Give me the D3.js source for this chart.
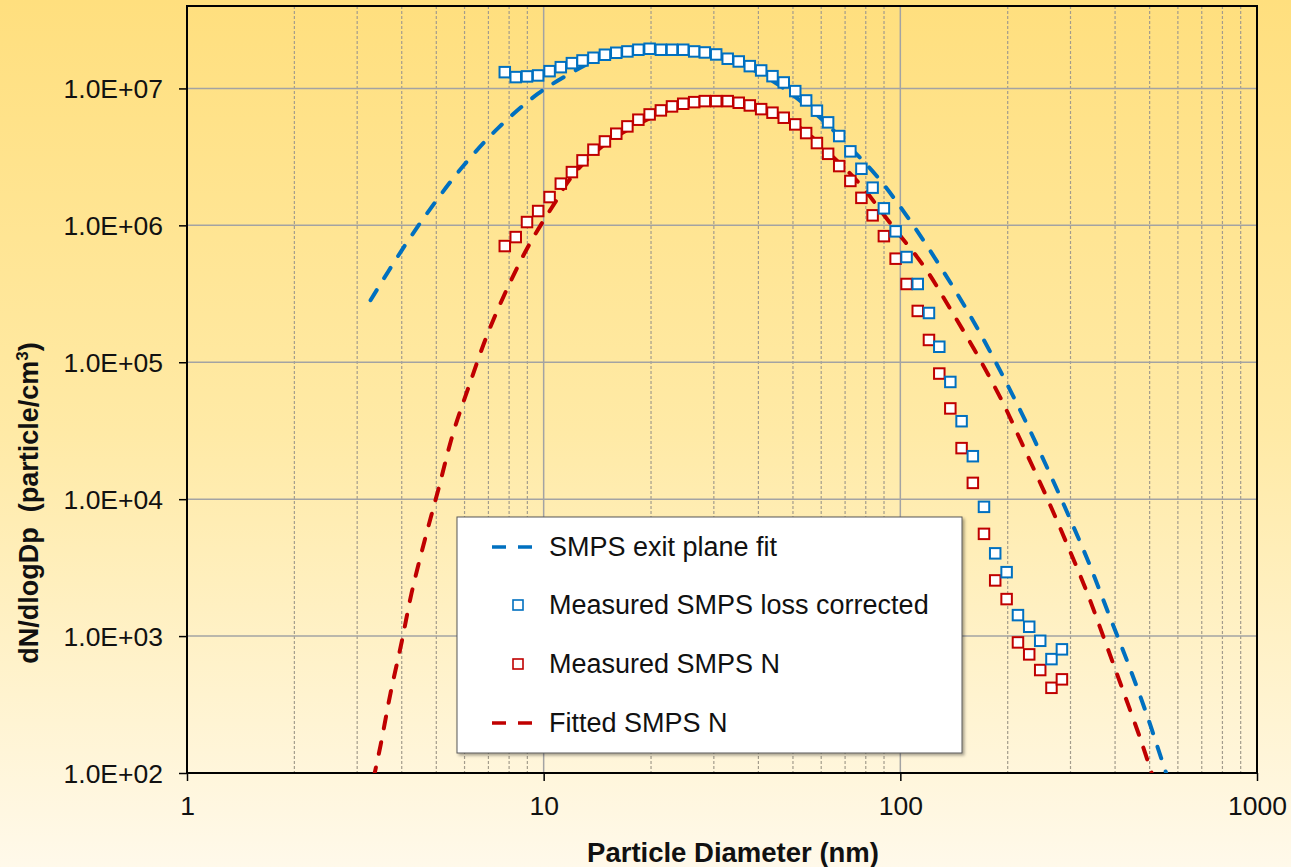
<!DOCTYPE html>
<html>
<head>
<meta charset="utf-8">
<script src="https://cdn.jsdelivr.net/npm/d3@7"></script>
<style>
  body { margin: 0; }
  svg { display: block; font-family: "Liberation Sans", Arial, sans-serif; }
</style>
</head>
<body>
<svg id="chart" width="1291" height="867"></svg>
<script>
// measured SMPS channels (nm)
var diameters = [7.78, 8.35, 8.98, 9.65, 10.39, 11.17, 12.00, 12.85, 13.79, 14.85, 15.98, 17.17, 18.43, 19.82, 21.31, 22.90, 24.62, 26.43, 28.30, 30.46, 32.81, 35.23, 37.84, 40.72, 43.81, 47.11, 50.74, 54.44, 58.36, 62.74, 67.40, 72.43, 77.78, 83.62, 89.92, 97.01, 104.1, 111.9, 120.3, 128.6, 138.1, 148.5, 159.7, 171.6, 184.5, 198.6, 213.7, 229.8, 246.7, 265.3, 283.8];

var lossCorrected = [1.315e7, 1.21e7, 1.224e7, 1.244e7, 1.337e7, 1.43e7, 1.53e7, 1.601e7, 1.675e7, 1.762e7, 1.822e7, 1.863e7, 1.917e7, 1.949e7, 1.917e7, 1.917e7, 1.917e7, 1.863e7, 1.831e7, 1.771e7, 1.648e7, 1.574e7, 1.455e7, 1.353e7, 1.229e7, 1.106e7, 9.56e6, 8.17e6, 6.88e6, 5.65e6, 4.49e6, 3.47e6, 2.59e6, 1.885e6, 1.331e6, 9.04e5, 5.87e5, 3.73e5, 2.29e5, 1.298e5, 7.18e4, 3.71e4, 2.06e4, 8.79e3, 4.02e3, 2.93e3, 1.423e3, 1.17e3, 924, 679, 800];

var measuredN = [7.06e5, 8.21e5, 1.057e6, 1.272e6, 1.609e6, 2.016e6, 2.449e6, 2.982e6, 3.57e6, 4.10e6, 4.67e6, 5.28e6, 5.91e6, 6.46e6, 6.91e6, 7.39e6, 7.73e6, 7.94e6, 8.08e6, 8.08e6, 8.08e6, 7.86e6, 7.51e6, 7.06e6, 6.65e6, 6.11e6, 5.46e6, 4.72e6, 3.99e6, 3.33e6, 2.71e6, 2.11e6, 1.588e6, 1.183e6, 8.34e5, 5.71e5, 3.73e5, 2.37e5, 1.455e5, 8.27e4, 4.60e4, 2.36e4, 1.315e4, 5.58e3, 2.55e3, 1.863e3, 899, 735, 565, 419, 483];

// fitted curves
var exitFitD = [3.27, 4.00, 4.85, 5.94, 7.45, 9.64, 11.58, 14.35, 17.41, 21.68, 27.35, 35.4, 45.8, 59.3, 71.9, 85.5, 104.8, 138.7, 164.6, 193.4, 224.9, 258.6, 297.4, 338.3, 383.3, 433.3, 487.7, 542.9, 567];
var exitFitV = [2.84e5, 6.57e5, 1.36e6, 2.70e6, 5.13e6, 9.15e6, 1.24e7, 1.658e7, 1.913e7, 2.026e7, 1.90e7, 1.527e7, 1.052e7, 6.18e6, 3.75e6, 2.32e6, 1.15e6, 3.75e5, 1.76e5, 8.04e4, 3.67e4, 1.676e4, 7.43e3, 3.39e3, 1.465e3, 649, 280, 121, 86];

var nFitD = [3.33, 3.49, 3.72, 4.00, 4.26, 4.64, 5.06, 5.57, 6.14, 6.91, 7.86, 9.14, 10.85, 11.96, 14.35, 18.57, 24.04, 30.33, 40.27, 52.13, 63.23, 76.77, 93.17, 116.8, 138.7, 164.6, 193.4, 222.5, 257.0, 294.1, 334.6, 376.9, 422.2, 472.3, 511];
var nFitV = [90, 160, 382, 909, 2050, 5020, 1.163e4, 3.02e4, 6.43e4, 1.53e5, 3.35e5, 7.35e5, 1.52e6, 2.25e6, 3.65e6, 5.55e6, 7.39e6, 7.90e6, 6.91e6, 5.19e6, 3.35e6, 2.02e6, 1.057e6, 4.96e5, 2.40e5, 1.125e5, 5.13e4, 2.35e4, 1.039e4, 4615, 2050, 884, 392, 174, 93];

var xTicks = [1, 10, 100, 1000];
var xTickLabels = ["1", "10", "100", "1000"];
var yTicks = [1e2, 1e3, 1e4, 1e5, 1e6, 1e7];
var yTickLabels = ["1.0E+02", "1.0E+03", "1.0E+04", "1.0E+05", "1.0E+06", "1.0E+07"];

var legendNames = ["SMPS exit plane fit", "Measured SMPS loss corrected", "Measured SMPS N", "Fitted SMPS N"];

var blue = "#0070C0";
var red = "#C00000";

var svg = d3.select("#chart");
var plotLeft = 187, plotRight = 1257, plotTop = 6, plotBottom = 773;

var x = d3.scaleLog().domain([1, 1000]).range([plotLeft, plotRight]);
var y = d3.scaleLog().domain([100, 4e7]).range([plotBottom, plotTop]);

// background
var defs = svg.append("defs");
var grad = defs.append("linearGradient").attr("id", "bg")
  .attr("x1", 0).attr("y1", 0).attr("x2", 0).attr("y2", 1);
grad.append("stop").attr("offset", "0%").attr("stop-color", "#FFDF7E");
grad.append("stop").attr("offset", "50%").attr("stop-color", "#FFEAA6");
grad.append("stop").attr("offset", "100%").attr("stop-color", "#FFF9EA");
svg.append("rect").attr("width", 1291).attr("height", 867).attr("fill", "url(#bg)");

defs.append("clipPath").attr("id", "plotclip").append("rect")
  .attr("x", plotLeft).attr("y", plotTop)
  .attr("width", plotRight - plotLeft).attr("height", plotBottom - plotTop);

var shadow = defs.append("filter").attr("id", "shadow")
  .attr("x", "-5%").attr("y", "-5%").attr("width", "115%").attr("height", "115%");
shadow.append("feDropShadow").attr("dx", 2).attr("dy", 2).attr("stdDeviation", 1.5)
  .attr("flood-color", "#000").attr("flood-opacity", 0.35);

// minor vertical grid
var minor = [];
[1, 10, 100].forEach(function (dec) {
  for (var k = 2; k <= 9; k++) minor.push(dec * k);
});
svg.append("g").selectAll("line").data(minor).enter().append("line")
  .attr("x1", d => x(d)).attr("x2", d => x(d))
  .attr("y1", plotTop).attr("y2", plotBottom)
  .attr("stroke", "#A39C8C").attr("stroke-width", 1.2)
  .attr("stroke-dasharray", "3,2");

// major grid
svg.append("g").selectAll("line").data([10, 100]).enter().append("line")
  .attr("x1", d => x(d)).attr("x2", d => x(d))
  .attr("y1", plotTop).attr("y2", plotBottom)
  .attr("stroke", "#A3A3A3").attr("stroke-width", 1.5);
svg.append("g").selectAll("line").data(yTicks.slice(1)).enter().append("line")
  .attr("x1", plotLeft).attr("x2", plotRight)
  .attr("y1", d => y(d)).attr("y2", d => y(d))
  .attr("stroke", "#A3A3A3").attr("stroke-width", 1.5);

// axes
var xAxis = d3.axisBottom(x).tickValues(xTicks).tickSize(8)
  .tickFormat((d, i) => xTickLabels[i]);
var gx = svg.append("g").attr("transform", "translate(0," + plotBottom + ")").call(xAxis);
gx.select(".domain").remove();
gx.selectAll(".tick line").attr("stroke", "#000").attr("stroke-width", 1.5);
gx.selectAll(".tick text").attr("font-size", 26.5).attr("fill", "#111")
  .attr("font-family", "Liberation Sans, Arial, sans-serif").attr("y", 42).attr("dy", 0);

var yAxis = d3.axisLeft(y).tickValues(yTicks).tickSize(8)
  .tickFormat((d, i) => yTickLabels[i]);
var gy = svg.append("g").attr("transform", "translate(" + plotLeft + ",0)").call(yAxis);
gy.select(".domain").remove();
gy.selectAll(".tick line").attr("stroke", "#000").attr("stroke-width", 1.5);
gy.selectAll(".tick text").attr("font-size", 26.5).attr("fill", "#111")
  .attr("font-family", "Liberation Sans, Arial, sans-serif").attr("x", -24).attr("dy", "0.36em");

// plot frame
svg.append("rect").attr("x", plotLeft).attr("y", plotTop)
  .attr("width", plotRight - plotLeft).attr("height", plotBottom - plotTop)
  .attr("fill", "none").attr("stroke", "#000").attr("stroke-width", 2);

// fitted lines
var plot = svg.append("g").attr("clip-path", "url(#plotclip)");
var line = d3.line().x(d => x(d[0])).y(d => y(d[1])).curve(d3.curveCatmullRom.alpha(0.5));

plot.append("path").datum(d3.zip(exitFitD, exitFitV))
  .attr("d", line).attr("fill", "none").attr("stroke", blue)
  .attr("stroke-width", 4).attr("stroke-linecap", "round").attr("stroke-dasharray", "12,14");
plot.append("path").datum(d3.zip(nFitD, nFitV))
  .attr("d", line).attr("fill", "none").attr("stroke", red)
  .attr("stroke-width", 4).attr("stroke-linecap", "round").attr("stroke-dasharray", "12,14");

// markers
var sq = 10.5;
plot.append("g").selectAll("rect").data(d3.zip(diameters, measuredN)).enter().append("rect")
  .attr("x", d => x(d[0]) - sq / 2).attr("y", d => y(d[1]) - sq / 2)
  .attr("width", sq).attr("height", sq)
  .attr("fill", "#fff").attr("stroke", red).attr("stroke-width", 2);
plot.append("g").selectAll("rect").data(d3.zip(diameters, lossCorrected)).enter().append("rect")
  .attr("x", d => x(d[0]) - sq / 2).attr("y", d => y(d[1]) - sq / 2)
  .attr("width", sq).attr("height", sq)
  .attr("fill", "#fff").attr("stroke", blue).attr("stroke-width", 2);

// axis titles
svg.append("text").attr("x", 733).attr("y", 862).attr("text-anchor", "middle")
  .attr("font-size", 27.5).attr("font-weight", "bold").attr("fill", "#111")
  .text("Particle Diameter (nm)");

var yt = svg.append("text").attr("transform", "translate(38,503) rotate(-90)")
  .attr("text-anchor", "middle").attr("font-size", 27).attr("font-weight", "bold").attr("fill", "#111");
yt.append("tspan").text("dN/dlogDp\u00A0\u00A0(particle/cm");
yt.append("tspan").attr("dy", -10).attr("font-size", 17).text("3");
yt.append("tspan").attr("dy", 10).text(")");

// legend
var lg = svg.append("g");
lg.append("rect").attr("x", 457).attr("y", 517).attr("width", 505).attr("height", 236)
  .attr("fill", "#fff").attr("stroke", "#595959").attr("stroke-width", 1)
  .attr("filter", "url(#shadow)");
var rowY = [547, 605, 664, 723];
legendNames.forEach(function (name, i) {
  var ry = rowY[i];
  if (i === 0 || i === 3) {
    lg.append("line").attr("x1", 492).attr("x2", 532).attr("y1", ry).attr("y2", ry)
      .attr("stroke", i === 0 ? blue : red).attr("stroke-width", 3.5)
      .attr("stroke-dasharray", "14,12");
  } else {
    lg.append("rect").attr("x", 513).attr("y", ry - 5).attr("width", 10).attr("height", 10)
      .attr("fill", "#fff").attr("stroke", i === 1 ? blue : red).attr("stroke-width", 1.6);
  }
  lg.append("text").attr("x", 549).attr("y", ry + 9).attr("font-size", 27)
    .attr("fill", "#111").text(name);
});
</script>
</body>
</html>
